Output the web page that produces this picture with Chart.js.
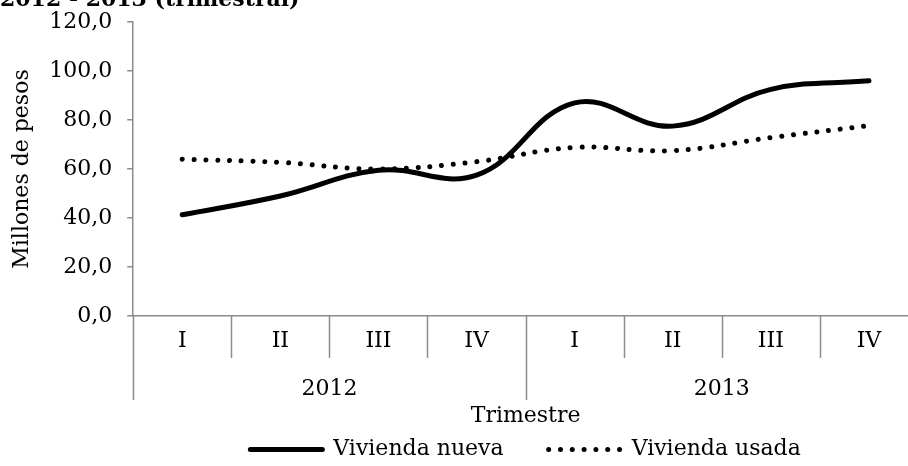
<!DOCTYPE html>
<html>
<head>
<meta charset="utf-8">
<script src="https://cdn.jsdelivr.net/npm/chart.js@4"></script>
<style>
    html, body { margin: 0; padding: 0; background: #fff; overflow: hidden; }
    body { width: 908px; height: 466px; position: relative; }
    #wrap { position: absolute; left: 0; top: -13px; width: 918px; height: 479px; }
</style>
</head>
<body>
<div id="wrap"><canvas id="chart"></canvas></div>
<script>
// Datos del gráfico
const trimestres = ['I', 'II', 'III', 'IV', 'I', 'II', 'III', 'IV'];
const anios = ['2012', '2013'];
const viviendaNueva = [41.3, 49.0, 59.5, 57.5, 87.0, 77.5, 92.5, 96.0];
const viviendaUsada = [64.0, 62.7, 60.0, 63.0, 68.8, 67.5, 72.8, 77.7];
const tickY = [0, 20, 40, 60, 80, 100, 120];

const axisGray = '#8c8c8c';
const serif = 'DejaVu Serif';
const legendGap = 45;

// Líneas separadoras de trimestres y años bajo el eje X
const separadores = {
    id: 'separadores',
    afterLayout(chart) {
        // centrar la leyenda bajo el área del gráfico
        const lg = chart.legend;
        lg.left = chart.chartArea.left;
        lg.right = chart.chartArea.right;
        lg.top -= legendGap - 9;
    },
    afterDraw(chart) {
        const { ctx, chartArea, scales } = chart;
        const x = scales.x, x2 = scales.x2;
        const porAnio = trimestres.length / anios.length;
        ctx.save();
        ctx.strokeStyle = axisGray;
        ctx.lineWidth = 1.5;
        for (let i = 0; i <= trimestres.length; i++) {
            const px = Math.round(x.getPixelForValue(i - 0.5)) + 0.5;
            const fondo = i % porAnio === 0 ? x2.top + 34 : x.bottom - 8;
            ctx.beginPath();
            ctx.moveTo(px, chartArea.bottom);
            ctx.lineTo(px, fondo);
            ctx.stroke();
        }
        ctx.restore();
    }
};

const ctx = document.getElementById('chart').getContext('2d');

new Chart(ctx, {
    type: 'line',
    data: {
        labels: trimestres,
        datasets: [{
            label: 'Vivienda nueva',
            data: viviendaNueva,
            borderColor: '#000',
            backgroundColor: '#000',
            borderWidth: 5,
            borderCapStyle: 'round',
            tension: 0.4,
            pointRadius: 0
        }, {
            label: 'Vivienda usada',
            data: viviendaUsada,
            borderColor: '#000',
            backgroundColor: '#000',
            borderWidth: 5,
            borderDash: [0.01, 11.8],
            borderCapStyle: 'round',
            tension: 0.4,
            pointRadius: 0
        }]
    },
    options: {
        responsive: true,
        maintainAspectRatio: false,
        animation: false,
        layout: { padding: 0 },
        plugins: {
            title: {
                display: true,
                text: '2012 - 2013 (trimestral)',
                align: 'start',
                color: '#000',
                font: { family: serif, size: 22, weight: 'bold' },
                padding: { top: 0, bottom: 8.6 }
            },
            legend: {
                position: 'bottom',
                maxHeight: 36.4,
                labels: {
                    usePointStyle: true,
                    pointStyle: 'line',
                    pointStyleWidth: 72,
                    color: '#000',
                    padding: legendGap,
                    font: { family: serif, size: 22 },
                    generateLabels: chart => {
                        const items = Chart.defaults.plugins.legend.labels.generateLabels(chart);
                        items.forEach((item, i) => {
                            const ds = chart.data.datasets[i];
                            item.lineDash = ds.borderDash || [];
                            item.lineCap = 'round';
                            item.lineWidth = ds.borderWidth;
                        });
                        return items;
                    }
                }
            },
            tooltip: { enabled: false }
        },
        scales: {
            x: {
                offset: true,
                weight: 0,
                grid: { display: false, tickLength: 0 },
                border: { color: axisGray, width: 1.5 },
                ticks: {
                    padding: 11.8,
                    color: '#000',
                    font: { family: serif, size: 22 }
                }
            },
            x2: {
                type: 'category',
                position: 'bottom',
                offset: true,
                weight: 1,
                labels: anios,
                grid: { display: false, tickLength: 0 },
                border: { display: false },
                ticks: {
                    padding: 9.8,
                    color: '#000',
                    font: { family: serif, size: 22 }
                },
                title: {
                    display: true,
                    text: 'Trimestre',
                    color: '#000',
                    padding: { top: -8.8, bottom: 0 },
                    font: { family: serif, size: 22 }
                }
            },
            y: {
                min: 0,
                max: 120,
                afterBuildTicks: axis => {
                    axis.ticks = tickY.map(v => ({ value: v }));
                },
                grid: {
                    drawOnChartArea: false,
                    tickLength: 6,
                    color: axisGray,
                    lineWidth: 1.5
                },
                border: { color: axisGray, width: 1.5 },
                ticks: {
                    padding: 15,
                    color: '#000',
                    font: { family: serif, size: 22 },
                    callback: value => value.toFixed(1).replace('.', ',')
                },
                title: {
                    display: true,
                    text: 'Millones de pesos',
                    color: '#000',
                    padding: { top: 8.8, bottom: -1 },
                    font: { family: serif, size: 22 }
                }
            }
        }
    },
    plugins: [separadores]
});
</script>
</body>
</html>
